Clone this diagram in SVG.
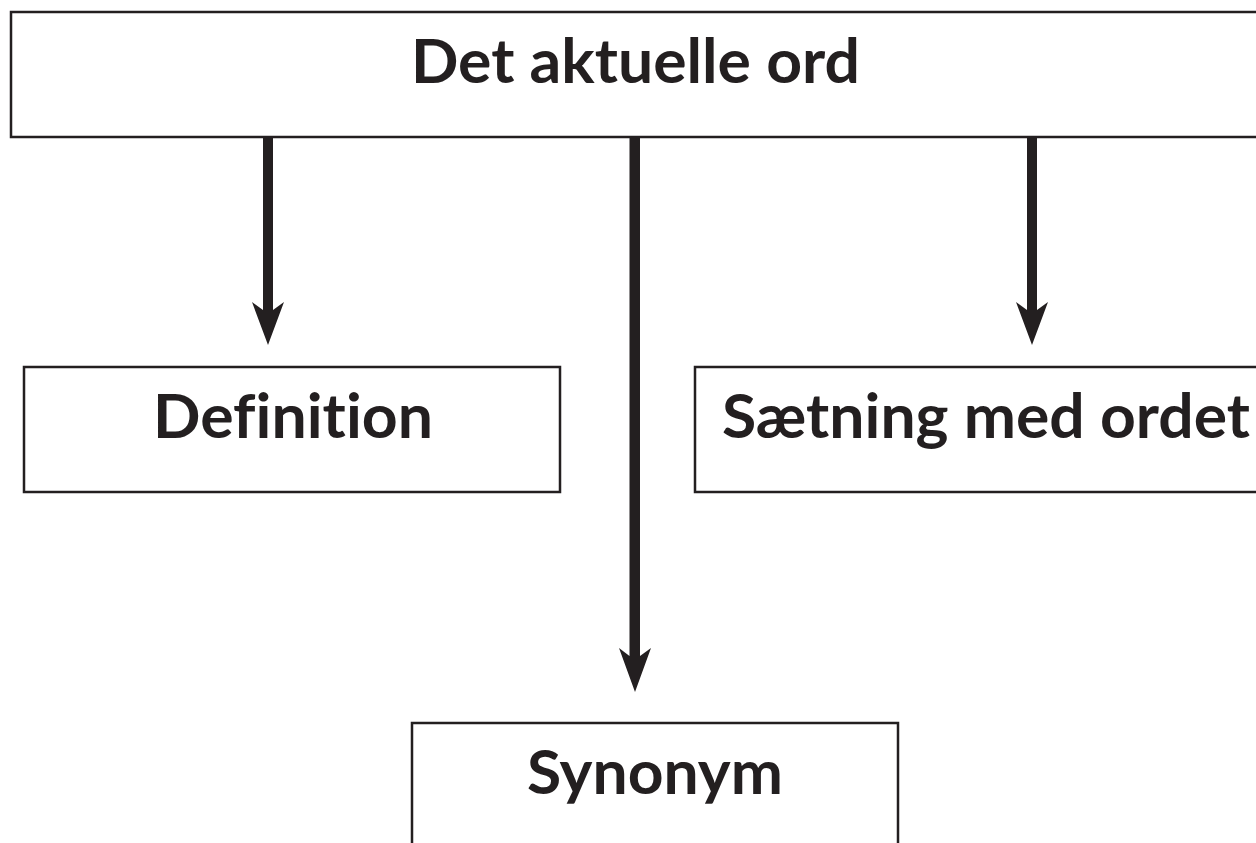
<svg xmlns="http://www.w3.org/2000/svg" width="1256" height="843" viewBox="0 0 1256 843">
<style>
.box{fill:#fff;stroke:#231f20;stroke-width:2.5}
.lbl{font-family:Lato,"Open Sans",sans-serif;font-weight:bold;font-size:62px;fill:#231f20;text-anchor:middle;font-variant-ligatures:none;font-feature-settings:"liga" 0}
.shaft{fill:#231f20}
</style>
<rect width="1256" height="843" fill="#fff"/>
<g id="node-top"><rect class="box" x="11" y="12" width="1260" height="125"/><text class="lbl" x="635.5" y="83" textLength="449" lengthAdjust="spacingAndGlyphs">Det aktuelle ord</text></g>
<g id="node-definition"><rect class="box" x="24" y="367" width="536" height="125"/><text class="lbl" x="293" y="438" textLength="280" lengthAdjust="spacingAndGlyphs">Definition</text></g>
<g id="node-saetning"><rect class="box" x="695" y="367" width="580" height="125"/><text class="lbl" x="986" y="438" textLength="528" lengthAdjust="spacingAndGlyphs">Sætning med ordet</text></g>
<g id="node-synonym"><rect class="box" x="412" y="723" width="486" height="140"/><text class="lbl" x="655" y="794" textLength="256" lengthAdjust="spacingAndGlyphs">Synonym</text></g>
<g id="connectors">
<path class="shaft" d="M263,137 H273 V310 L284,302 L268,345 L252,302 L263,310 Z"/>
<path class="shaft" d="M629.5,137 H640 V656 L651,648 L635,692 L619,648 L629.5,656 Z"/>
<path class="shaft" d="M1027,137 H1037 V310 L1048,302 L1032,345 L1016,302 L1027,310 Z"/>
</g>
</svg>
